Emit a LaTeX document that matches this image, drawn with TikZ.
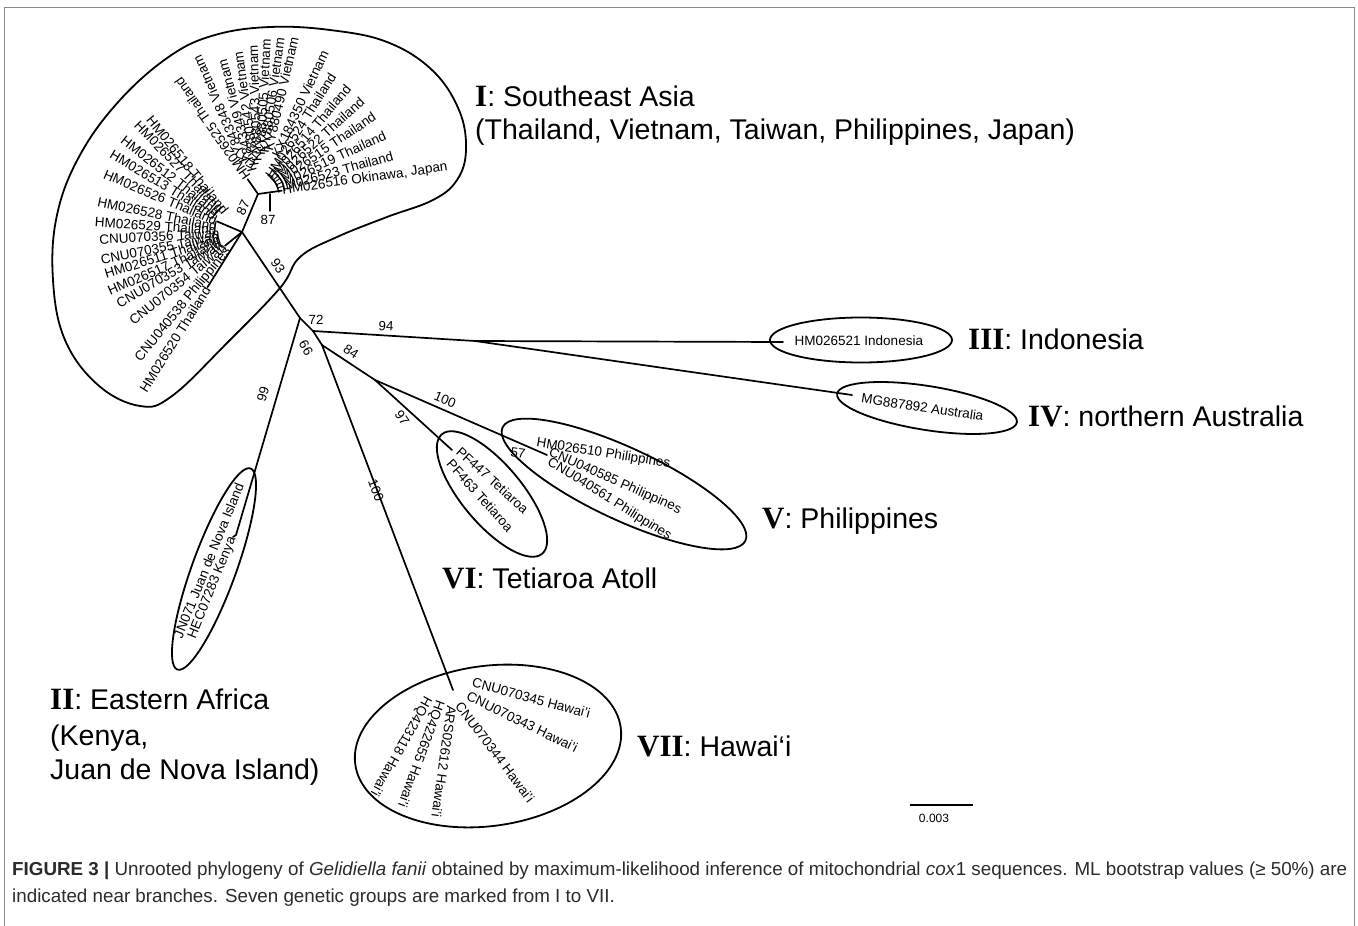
\documentclass[tikz,border=0pt]{standalone}
\usepackage{fontspec}
\setmainfont{Liberation Sans}
\newfontfamily\romfont{Liberation Serif}
\usetikzlibrary{calc}
\definecolor{captext}{HTML}{2B2B2B}
\definecolor{framegray}{HTML}{8A8A8A}
\newcommand{\RL}[5]{\node[leaf,anchor=west,rotate=#2] (#5) at ($(#1)+({#3*cos(#2)},{-#3*sin(#2)})$) {#4};}
\newcommand{\LL}[5]{\node[leaf,anchor=east,rotate=#2-180] (#5) at ($(#1)+({#3*cos(#2)},{-#3*sin(#2)})$) {#4};}
\newcommand{\RN}[1]{{\romfont\bfseries\fontsize{31}{32}\selectfont #1}}
\begin{document}
\begin{tikzpicture}[x=1pt,y=-1pt,
  br/.style={line width=1.7pt, line cap=round},
  ell/.style={line width=1.8pt},
  leaf/.style={font=\fontsize{13.5}{14}\selectfont, inner sep=0.5pt},
  bs/.style={font=\fontsize{13.3}{14}\selectfont, inner sep=0.5pt},
  big/.style={font=\fontsize{28.5}{32}\selectfont, anchor=base west, inner sep=0pt},
  captxt/.style={font=\fontsize{18.8}{22}\selectfont, anchor=base west, inner sep=0pt, text=captext},
]
\useasboundingbox (0,0) rectangle (1358,926);
% frame
\draw[framegray, line width=1pt] (4,930) -- (4,7) -- (1354,7) -- (1354,930);

% tree nodes
\coordinate (N1) at (300,318);
\coordinate (N2) at (313,331);
\coordinate (N3) at (475,341);
\coordinate (N4) at (322,345);
\coordinate (N5) at (375,380);
\coordinate (S1) at (242,232);
\coordinate (S2) at (258,194);
\coordinate (K)  at (236,535);
\coordinate (T)  at (452,450);
\coordinate (P)  at (547,455);
\coordinate (H)  at (453,690);
\coordinate (S2a) at (270,194);
\coordinate (S2b) at (270,211);
\coordinate (Ind) at (783,342);
\coordinate (Aus) at (852,395);

% Southeast Asia outline
\draw[ell] plot[smooth cycle, tension=0.65] coordinates {
 (280,288) (300,257) (337,237) (387,217) (433,200) (457,180) (466,150) (459,110)
 (432,70) (387,42) (330,30) (270,27) (215,35) (170,56) (120,100) (80,155)
 (57,215) (53,280) (65,340) (98,385) (140,406) (172,396) (226,344)};

% other ellipses
\draw[ell] (861,340) ellipse [x radius=91, y radius=22.5];
\draw[ell, rotate around={-9:(927,408)}] (927,408) ellipse [x radius=91, y radius=22];
\draw[ell, rotate around={-25:(624,484)}] (624,484) ellipse [x radius=134, y radius=36];
\draw[ell, rotate around={-50:(492,494)}] (492,494) ellipse [x radius=78, y radius=30];
\draw[ell, rotate around={70:(214,569)}] (214,569) ellipse [x radius=107, y radius=22];
\draw[ell, rotate around={8:(488,746)}] (488,746) ellipse [x radius=134, y radius=80];

% ---- SE Asia fan around S2
\RL{S2}{8}{24}{HM026516 Okinawa, Japan}{a1}
\RL{S2}{16}{18}{HM026523 Thailand}{a2}
\RL{S2}{25}{18}{HM026519 Thailand}{a3}
\RL{S2}{34}{18}{HM026515 Thailand}{a4}
\RL{S2}{42}{18}{HM026522 Thailand}{a5}
\RL{S2}{50}{18}{HM026514 Thailand}{a6}
\RL{S2}{58}{19}{HM026524 Thailand}{a7}
\RL{S2}{65}{41}{KX184350 Vietnam}{a8}
\RL{S2}{77}{44}{KY880490 Vietnam}{a9}
\RL{S2}{82}{41}{KY880506 Vietnam}{a10}
\RL{S2}{87}{38}{KY880505 Vietnam}{a11}
\RL{S2}{92}{32}{KY880543 Vietnam}{a12}
\RL{S2}{98}{27}{KY880542 Vietnam}{a13}
\RL{S2}{105}{22}{KY843349 Vietnam}{a14}
\RL{S2}{114}{34}{KY843348 Vietnam}{a15}
\RL{S2}{125}{18}{HM026525 Thailand}{a16}
% ---- fan around S1
\LL{S1}{129}{25}{HM026518 Thailand}{b1}
\LL{S1}{134}{29}{HM026527 Thailand}{b2}
\LL{S1}{142}{29}{HM026512 Thailand}{b3}
\LL{S1}{149}{30}{HM026513 Thailand}{b4}
\LL{S1}{157}{27}{HM026526 Thailand}{b5}
\LL{S1}{168}{25}{HM026528 Thailand}{b6}
\LL{S1}{176}{25}{HM026529 Thailand}{b7}
\LL{S1}{183}{22}{CNU070356 Taiwan}{b8}
\LL{S1}{191}{23}{CNU070355 Taiwan}{b9}
\LL{S1}{197}{22}{HM026511 Thailand}{b10}
\LL{S1}{204}{24}{HM026517 Thailand}{b11}
\LL{S1}{210}{23}{CNU070353 Taiwan}{b12}
\LL{S1}{219}{22}{CNU070354 Taiwan}{b13}
\LL{S1}{231}{21}{CNU040538 Philippines}{b14}
\LL{S1}{238}{65}{HM026520 Thailand}{b15}

% ---- other leaves
\node[leaf,anchor=west] (lInd) at (794,341) {HM026521 Indonesia};
\node[leaf,anchor=west,rotate=-8.5] (lAus) at (861,398) {MG887892 Australia};
\node[leaf,anchor=west,rotate=-9] (p1) at (536,443) {HM026510 Philippines};
\node[leaf,anchor=west,rotate=-24] (p2) at (549,452) {CNU040585 Philippines};
\node[leaf,anchor=west,rotate=-32] (p3) at (548,461) {CNU040561 Philippines};
\node[leaf,anchor=west,rotate=-42] (t1) at (458,449) {PF447 Tetiaroa};
\node[leaf,anchor=west,rotate=-48] (t2) at (449,461) {PF463 Tetiaroa};
\node[leaf,anchor=east,rotate=68] (k1) at (233,537) {HEC07283 Kenya};
\node[leaf,anchor=east,rotate=68] (k2) at (240,483) {JN071 Juan de Nova Island};
\node[leaf,anchor=west,rotate=-15] (h1) at (472,682) {CNU070345 Hawai'i};
\node[leaf,anchor=west,rotate=-26] (h2) at (467,695) {CNU070343 Hawai'i};
\node[leaf,anchor=west,rotate=-53] (h3) at (458,703) {CNU070344 Hawai'i};
\node[leaf,anchor=west,rotate=-98] (h4) at (452,705) {ARS02612 Hawai'i};
\node[leaf,anchor=west,rotate=-110] (h5) at (440,700) {HQ422655 Hawai'i};
\node[leaf,anchor=west,rotate=-119] (h6) at (428,697) {HQ423118 Hawai'i};

% ---- branches
\draw[br] (N1) -- (S1);
\draw[br] (S1) -- (S2);
\draw[br] (S2) -- (a1.west);
\draw[br] (S2a) -- (S2b);
\draw[br] (S2) -- (a16.west);
\draw[br] (S1) -- (b5.east);
\draw[br] (S1) -- (b13.east);
\draw[br] (S1) -- (b15.east);
\draw[br] (N1) -- (K);
\draw[br] (K) -- (k1.east);
\draw[br] (N1) -- (N2);
\draw[br] (N2) -- (N3);
\draw[br] (N3) -- (Ind);
\draw[br] (N3) -- (Aus);
\draw[br] (N2) -- (N4);
\draw[br] (N4) -- (N5);
\draw[br] (N5) -- (T);
\draw[br] (N5) -- (P);
\draw[br] (N4) -- (H);

% ---- bootstrap values
\node[bs,rotate=65] (v87a) at (243,208) {87};
\node[bs] (v87b) at (268,220) {87};
\node[bs,rotate=-56] (v93) at (278,266) {93};
\node[bs] (v72) at (316,320) {72};
\node[bs,rotate=-3] (v94) at (386,326) {94};
\node[bs,rotate=-60] (v66) at (306,348) {66};
\node[bs,rotate=-33] (v84) at (351,352) {84};
\node[bs,rotate=74] (v99) at (263,394) {99};
\node[bs,rotate=-55] (v97) at (402,418) {97};
\node[bs,rotate=-23] (v100a) at (445,400) {100};
\node[bs,rotate=-69] (v100b) at (376,490) {100};
\node[bs,rotate=-8] (v57) at (518,453) {57};

% ---- group labels
\node[big] (gI) at (475,106) {\RN{I}: Southeast Asia};
\node[big] (gIb) at (475,139) {(Thailand, Vietnam, Taiwan, Philippines, Japan)};
\node[big] (gIII) at (968,349) {\RN{III}: Indonesia};
\node[big] (gIV) at (1028,426) {\RN{IV}: northern Australia};
\node[big] (gV) at (762,528) {\RN{V}: Philippines};
\node[big] (gVI) at (442,588) {\RN{VI}: Tetiaroa Atoll};
\node[big] (gII) at (50,709) {\RN{II}: Eastern Africa};
\node[big] (gIIb) at (50,745) {(Kenya,};
\node[big] (gIIc) at (50,779) {Juan de Nova Island)};
\node[big] (gVII) at (637,756) {\RN{VII}: Hawai‘i};

% ---- scale bar
\coordinate (sb1) at (910,805);
\coordinate (sb2) at (973,805);
\draw[line width=1.3pt] (sb1) -- (sb2);
\node[font=\fontsize{12}{13}\selectfont, inner sep=0pt] (sbl) at (934,818) {0.003};

% ---- caption
\node[captxt] (cap1) at (12,875) {\textbf{FIGURE 3 |} Unrooted phylogeny of \textit{Gelidiella fanii} obtained by maximum-likelihood inference of mitochondrial \textit{cox}1 sequences. ML bootstrap values (≥ 50\%) are};
\node[captxt] (cap2) at (12,902) {indicated near branches. Seven genetic groups are marked from I to VII.};
\end{tikzpicture}
\end{document}
